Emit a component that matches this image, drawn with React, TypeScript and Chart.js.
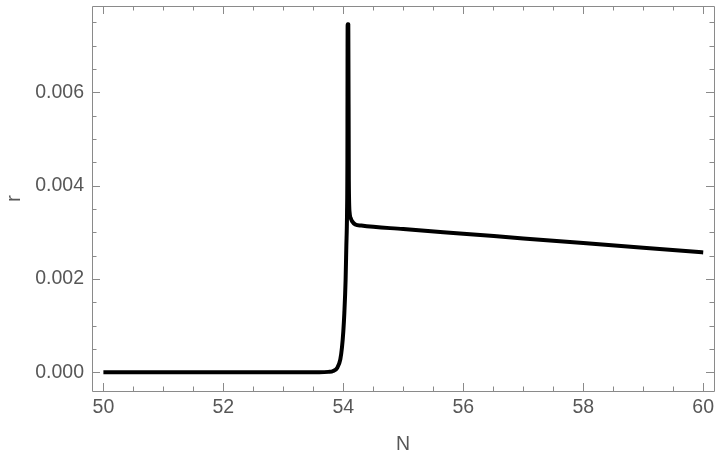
import React, { useEffect, useRef } from "react";
import { Chart, registerables } from "chart.js";

Chart.register(...registerables);

// Data
const N_VALUES = [
  50, 53.0, 53.6, 53.75, 53.83, 53.9, 53.95, 53.978, 54.0, 54.017, 54.038, 54.05,
  54.062, 54.068, 54.072, 54.083, 54.092, 54.105, 54.125, 54.145, 54.2, 54.3,
  55, 56, 57, 58, 59, 60,
];
const R_VALUES = [
  0, 0, 0, 0.00001, 0.00003, 0.0001, 0.00028, 0.00054, 0.00088, 0.00127, 0.00198, 0.00269,
  0.00342, 0.0045, 0.00746, 0.00746, 0.0041, 0.00342, 0.0033, 0.00324, 0.00317, 0.003145,
  0.00307, 0.00297, 0.00287, 0.00277, 0.00267, 0.00257,
];
const X_TICKS = [50, 52, 54, 56, 58, 60];
const Y_TICKS = [0, 0.002, 0.004, 0.006];
const X_MINOR_STEP = 0.5;
const Y_MINOR_STEP = 0.0005;
const X_TITLE = "N";
const Y_TITLE = "r";

const X_MIN = 49.81;
const X_MAX = 60.18;
const Y_MIN = -0.0004;
const Y_MAX = 0.00785;

const FONT = "'Liberation Sans', Arial, sans-serif";
const TEXT_COLOR = "#575757";
const FRAME_COLOR = "#8a8a8a";

const framePlugin = {
  id: "mathematicaFrame",
  afterDraw(chart: any) {
    const { ctx, chartArea } = chart;
    const xs = chart.scales.x;
    const ys = chart.scales.y;
    const { left, right, top, bottom } = chartArea;
    ctx.save();
    ctx.strokeStyle = FRAME_COLOR;
    ctx.lineWidth = 1;
    ctx.beginPath();
    ctx.rect(Math.round(left) + 0.5, Math.round(top) + 0.5, Math.round(right - left), Math.round(bottom - top));
    ctx.stroke();

    const major = 8;
    const minor = 4.5;
    const eps = 1e-9;
    const xStart = Math.ceil(X_MIN / X_MINOR_STEP) * X_MINOR_STEP;
    ctx.beginPath();
    for (let v = xStart; v <= X_MAX + eps; v += X_MINOR_STEP) {
      const isMajor = X_TICKS.some((t) => Math.abs(t - v) < 1e-6);
      const len = isMajor ? major : minor;
      const px = Math.round(xs.getPixelForValue(v)) + 0.5;
      ctx.moveTo(px, bottom);
      ctx.lineTo(px, bottom - len);
      ctx.moveTo(px, top);
      ctx.lineTo(px, top + len);
    }
    const yStart = Math.ceil(Y_MIN / Y_MINOR_STEP) * Y_MINOR_STEP;
    for (let v = yStart; v <= Y_MAX + eps; v += Y_MINOR_STEP) {
      const isMajor = Y_TICKS.some((t) => Math.abs(t - v) < 1e-9);
      const len = isMajor ? major : minor;
      const py = Math.round(ys.getPixelForValue(v)) + 0.5;
      ctx.moveTo(left, py);
      ctx.lineTo(left + len, py);
      ctx.moveTo(right, py);
      ctx.lineTo(right - len, py);
    }
    ctx.stroke();
    ctx.restore();
  },
};

export default function App() {
  const canvasRef = useRef<HTMLCanvasElement | null>(null);

  useEffect(() => {
    const canvas = canvasRef.current;
    if (!canvas) return;
    const points = N_VALUES.map((n, i) => ({ x: n, y: R_VALUES[i] }));
    const chart = new Chart(canvas, {
      type: "line",
      data: {
        datasets: [
          {
            data: points,
            borderColor: "#000000",
            borderWidth: 4,
            pointRadius: 0,
            cubicInterpolationMode: "monotone",
            borderJoinStyle: "round",
            fill: false,
          },
        ],
      },
      options: {
        animation: false,
        responsive: false,
        devicePixelRatio: 1,
        layout: { padding: { top: 6, right: 6, left: 0, bottom: 0 } },
        plugins: { legend: { display: false }, tooltip: { enabled: false } },
        scales: {
          x: {
            type: "linear",
            min: X_MIN,
            max: X_MAX,
            afterBuildTicks: (scale: any) => {
              scale.ticks = X_TICKS.map((v) => ({ value: v }));
            },
            afterFit: (scale: any) => {
              scale.height = 65;
              scale.paddingLeft = 0;
              scale.paddingRight = 0;
            },
            grid: { display: false, drawTicks: false },
            border: { display: false },
            ticks: {
              autoSkip: false,
              maxRotation: 0,
              padding: 5,
              color: TEXT_COLOR,
              font: { family: FONT, size: 19.5 },
              callback: (v: any) => String(v),
            },
            title: {
              display: true,
              text: X_TITLE,
              color: TEXT_COLOR,
              font: { family: FONT, size: 19.5 },
              padding: { top: 0, bottom: 0 },
            },
          },
          y: {
            type: "linear",
            min: Y_MIN,
            max: Y_MAX,
            afterBuildTicks: (scale: any) => {
              scale.ticks = Y_TICKS.map((v) => ({ value: v }));
            },
            afterFit: (scale: any) => {
              scale.width = 92;
              scale.paddingTop = 0;
              scale.paddingBottom = 0;
            },
            grid: { display: false, drawTicks: false },
            border: { display: false },
            ticks: {
              autoSkip: false,
              padding: 8,
              color: TEXT_COLOR,
              font: { family: FONT, size: 19.5 },
              callback: (v: any) => Number(v).toFixed(3),
            },
            title: {
              display: true,
              text: Y_TITLE,
              color: TEXT_COLOR,
              font: { family: FONT, size: 19.5 },
              padding: { top: 3, bottom: 0 },
            },
          },
        },
      },
      plugins: [framePlugin],
    });
    return () => chart.destroy();
  }, []);

  return (
    <div style={{ position: "fixed", left: 0, top: 0, width: 720, height: 456, background: "#fff" }}>
      <canvas ref={canvasRef} width={720} height={456} style={{ display: "block" }} />
    </div>
  );
}
